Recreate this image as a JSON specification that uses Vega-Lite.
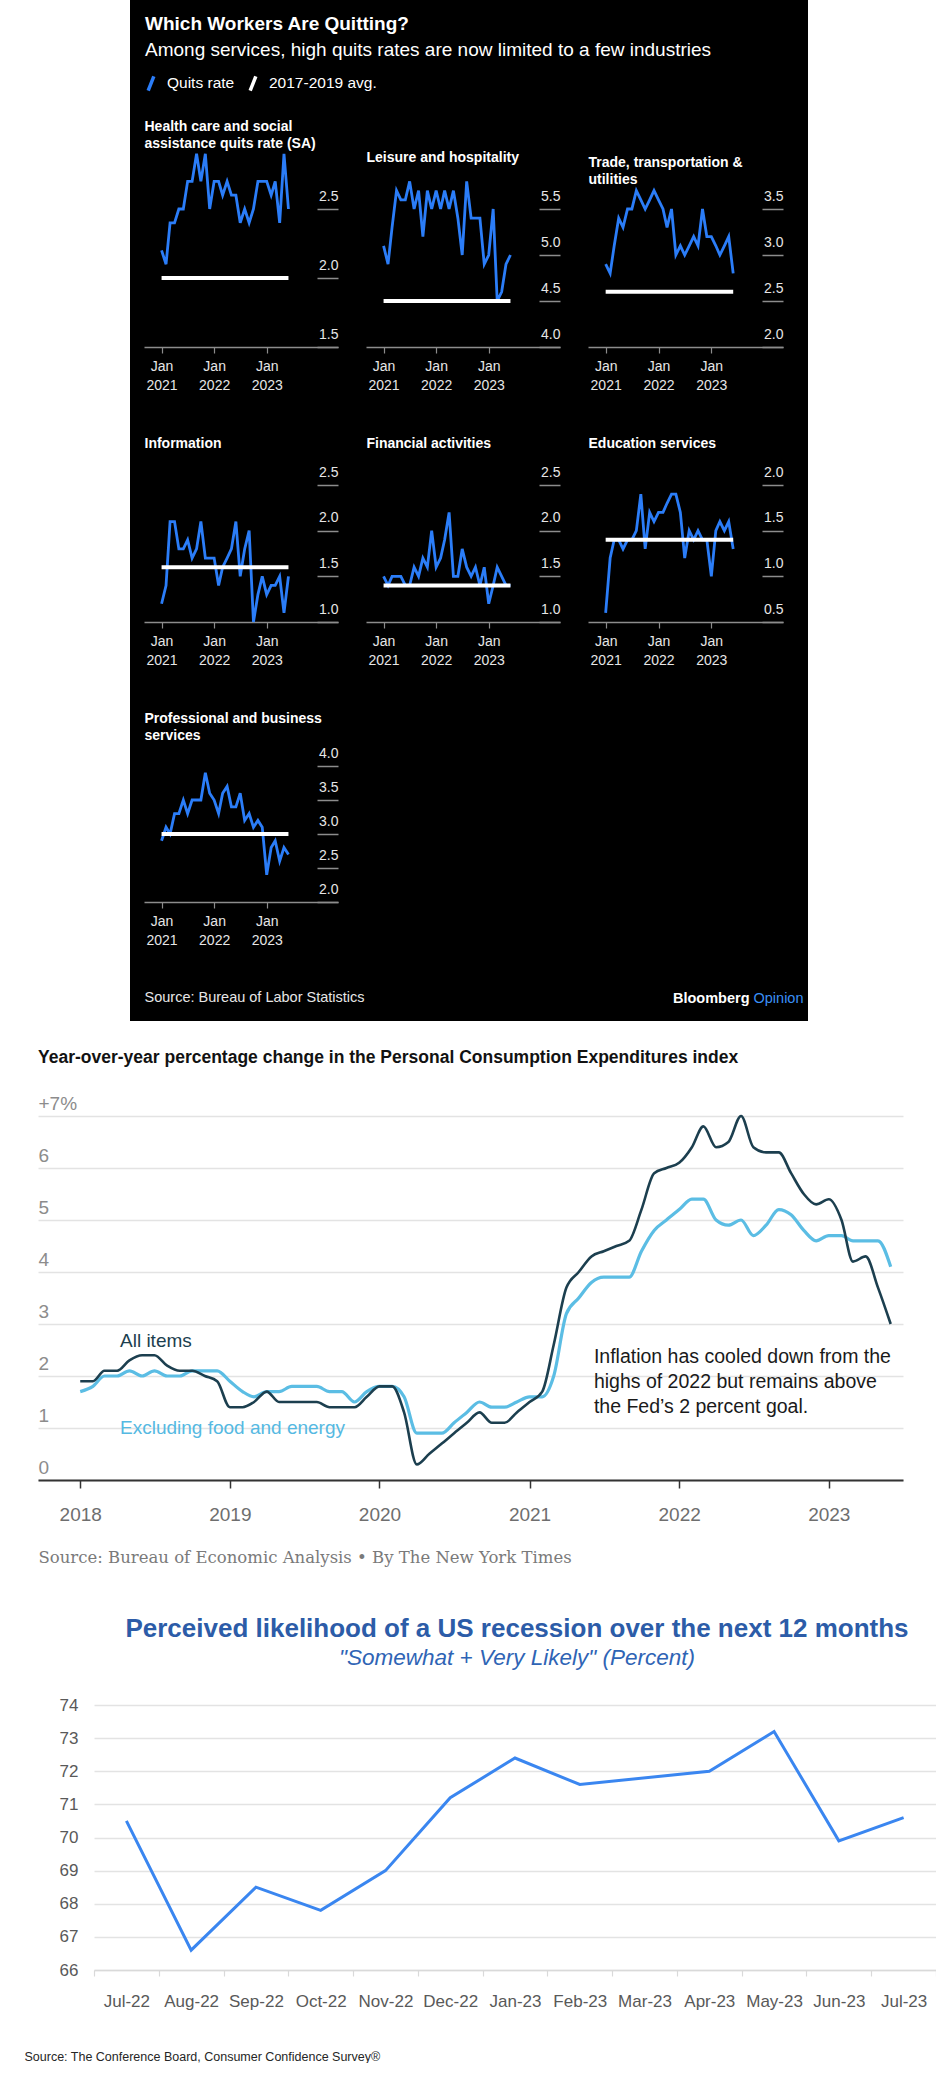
{
  "$schema": "https://vega.github.io/schema/vega-lite/v6.json",
  "padding": 0,
  "background": "white",
  "config": {
    "font": "Liberation Sans",
    "view": {"stroke": null},
    "axis": {"labelFont": "Liberation Sans", "titleFont": "Liberation Sans"},
    "title": {"font": "Liberation Sans", "subtitleFont": "Liberation Sans"}
  },
  "datasets": {
    "quits": [
      {"ind":"h","m":"2021-01-01","r":2.2},{"ind":"h","m":"2021-02-01","r":2.1},{"ind":"h","m":"2021-03-01","r":2.4},{"ind":"h","m":"2021-04-01","r":2.4},{"ind":"h","m":"2021-05-01","r":2.5},{"ind":"h","m":"2021-06-01","r":2.5},{"ind":"h","m":"2021-07-01","r":2.7},{"ind":"h","m":"2021-08-01","r":2.7},{"ind":"h","m":"2021-09-01","r":2.9},{"ind":"h","m":"2021-10-01","r":2.7},{"ind":"h","m":"2021-11-01","r":2.9},{"ind":"h","m":"2021-12-01","r":2.5},
      {"ind":"h","m":"2022-01-01","r":2.7},{"ind":"h","m":"2022-02-01","r":2.7},{"ind":"h","m":"2022-03-01","r":2.6},{"ind":"h","m":"2022-04-01","r":2.7},{"ind":"h","m":"2022-05-01","r":2.6},{"ind":"h","m":"2022-06-01","r":2.6},{"ind":"h","m":"2022-07-01","r":2.4},{"ind":"h","m":"2022-08-01","r":2.5},{"ind":"h","m":"2022-09-01","r":2.4},{"ind":"h","m":"2022-10-01","r":2.5},{"ind":"h","m":"2022-11-01","r":2.7},{"ind":"h","m":"2022-12-01","r":2.7},
      {"ind":"h","m":"2023-01-01","r":2.7},{"ind":"h","m":"2023-02-01","r":2.6},{"ind":"h","m":"2023-03-01","r":2.7},{"ind":"h","m":"2023-04-01","r":2.4},{"ind":"h","m":"2023-05-01","r":2.9},{"ind":"h","m":"2023-06-01","r":2.5},
      {"ind":"l","m":"2021-01-01","r":5.1},{"ind":"l","m":"2021-02-01","r":4.9},{"ind":"l","m":"2021-03-01","r":5.3},{"ind":"l","m":"2021-04-01","r":5.7},{"ind":"l","m":"2021-05-01","r":5.6},{"ind":"l","m":"2021-06-01","r":5.6},{"ind":"l","m":"2021-07-01","r":5.8},{"ind":"l","m":"2021-08-01","r":5.5},{"ind":"l","m":"2021-09-01","r":5.7},{"ind":"l","m":"2021-10-01","r":5.2},{"ind":"l","m":"2021-11-01","r":5.7},{"ind":"l","m":"2021-12-01","r":5.5},
      {"ind":"l","m":"2022-01-01","r":5.7},{"ind":"l","m":"2022-02-01","r":5.5},{"ind":"l","m":"2022-03-01","r":5.7},{"ind":"l","m":"2022-04-01","r":5.5},{"ind":"l","m":"2022-05-01","r":5.7},{"ind":"l","m":"2022-06-01","r":5.4},{"ind":"l","m":"2022-07-01","r":5.0},{"ind":"l","m":"2022-08-01","r":5.8},{"ind":"l","m":"2022-09-01","r":5.4},{"ind":"l","m":"2022-10-01","r":5.4},{"ind":"l","m":"2022-11-01","r":5.4},{"ind":"l","m":"2022-12-01","r":4.9},
      {"ind":"l","m":"2023-01-01","r":5.0},{"ind":"l","m":"2023-02-01","r":5.5},{"ind":"l","m":"2023-03-01","r":4.5},{"ind":"l","m":"2023-04-01","r":4.6},{"ind":"l","m":"2023-05-01","r":4.9},{"ind":"l","m":"2023-06-01","r":5.0},
      {"ind":"t","m":"2021-01-01","r":2.9},{"ind":"t","m":"2021-02-01","r":2.8},{"ind":"t","m":"2021-03-01","r":3.1},{"ind":"t","m":"2021-04-01","r":3.4},{"ind":"t","m":"2021-05-01","r":3.3},{"ind":"t","m":"2021-06-01","r":3.5},{"ind":"t","m":"2021-07-01","r":3.5},{"ind":"t","m":"2021-08-01","r":3.7},{"ind":"t","m":"2021-09-01","r":3.6},{"ind":"t","m":"2021-10-01","r":3.5},{"ind":"t","m":"2021-11-01","r":3.6},{"ind":"t","m":"2021-12-01","r":3.7},
      {"ind":"t","m":"2022-01-01","r":3.6},{"ind":"t","m":"2022-02-01","r":3.5},{"ind":"t","m":"2022-03-01","r":3.3},{"ind":"t","m":"2022-04-01","r":3.5},{"ind":"t","m":"2022-05-01","r":3.0},{"ind":"t","m":"2022-06-01","r":3.1},{"ind":"t","m":"2022-07-01","r":3.0},{"ind":"t","m":"2022-08-01","r":3.1},{"ind":"t","m":"2022-09-01","r":3.2},{"ind":"t","m":"2022-10-01","r":3.1},{"ind":"t","m":"2022-11-01","r":3.5},{"ind":"t","m":"2022-12-01","r":3.2},
      {"ind":"t","m":"2023-01-01","r":3.2},{"ind":"t","m":"2023-02-01","r":3.1},{"ind":"t","m":"2023-03-01","r":3.0},{"ind":"t","m":"2023-04-01","r":3.1},{"ind":"t","m":"2023-05-01","r":3.2},{"ind":"t","m":"2023-06-01","r":2.8},
      {"ind":"i","m":"2021-01-01","r":1.2},{"ind":"i","m":"2021-02-01","r":1.4},{"ind":"i","m":"2021-03-01","r":2.1},{"ind":"i","m":"2021-04-01","r":2.1},{"ind":"i","m":"2021-05-01","r":1.8},{"ind":"i","m":"2021-06-01","r":1.8},{"ind":"i","m":"2021-07-01","r":1.9},{"ind":"i","m":"2021-08-01","r":1.7},{"ind":"i","m":"2021-09-01","r":1.8},{"ind":"i","m":"2021-10-01","r":2.1},{"ind":"i","m":"2021-11-01","r":1.7},{"ind":"i","m":"2021-12-01","r":1.7},
      {"ind":"i","m":"2022-01-01","r":1.7},{"ind":"i","m":"2022-02-01","r":1.4},{"ind":"i","m":"2022-03-01","r":1.6},{"ind":"i","m":"2022-04-01","r":1.7},{"ind":"i","m":"2022-05-01","r":1.8},{"ind":"i","m":"2022-06-01","r":2.1},{"ind":"i","m":"2022-07-01","r":1.5},{"ind":"i","m":"2022-08-01","r":1.8},{"ind":"i","m":"2022-09-01","r":2.0},{"ind":"i","m":"2022-10-01","r":1.0},{"ind":"i","m":"2022-11-01","r":1.3},{"ind":"i","m":"2022-12-01","r":1.5},
      {"ind":"i","m":"2023-01-01","r":1.3},{"ind":"i","m":"2023-02-01","r":1.4},{"ind":"i","m":"2023-03-01","r":1.4},{"ind":"i","m":"2023-04-01","r":1.5},{"ind":"i","m":"2023-05-01","r":1.1},{"ind":"i","m":"2023-06-01","r":1.5},
      {"ind":"f","m":"2021-01-01","r":1.5},{"ind":"f","m":"2021-02-01","r":1.4},{"ind":"f","m":"2021-03-01","r":1.5},{"ind":"f","m":"2021-04-01","r":1.5},{"ind":"f","m":"2021-05-01","r":1.5},{"ind":"f","m":"2021-06-01","r":1.4},{"ind":"f","m":"2021-07-01","r":1.4},{"ind":"f","m":"2021-08-01","r":1.6},{"ind":"f","m":"2021-09-01","r":1.5},{"ind":"f","m":"2021-10-01","r":1.7},{"ind":"f","m":"2021-11-01","r":1.6},{"ind":"f","m":"2021-12-01","r":2.0},
      {"ind":"f","m":"2022-01-01","r":1.6},{"ind":"f","m":"2022-02-01","r":1.7},{"ind":"f","m":"2022-03-01","r":1.9},{"ind":"f","m":"2022-04-01","r":2.2},{"ind":"f","m":"2022-05-01","r":1.5},{"ind":"f","m":"2022-06-01","r":1.5},{"ind":"f","m":"2022-07-01","r":1.8},{"ind":"f","m":"2022-08-01","r":1.6},{"ind":"f","m":"2022-09-01","r":1.5},{"ind":"f","m":"2022-10-01","r":1.6},{"ind":"f","m":"2022-11-01","r":1.4},{"ind":"f","m":"2022-12-01","r":1.6},
      {"ind":"f","m":"2023-01-01","r":1.2},{"ind":"f","m":"2023-02-01","r":1.4},{"ind":"f","m":"2023-03-01","r":1.6},{"ind":"f","m":"2023-04-01","r":1.5},{"ind":"f","m":"2023-05-01","r":1.4},{"ind":"f","m":"2023-06-01","r":1.4},
      {"ind":"e","m":"2021-01-01","r":0.6},{"ind":"e","m":"2021-02-01","r":1.2},{"ind":"e","m":"2021-03-01","r":1.4},{"ind":"e","m":"2021-04-01","r":1.4},{"ind":"e","m":"2021-05-01","r":1.3},{"ind":"e","m":"2021-06-01","r":1.4},{"ind":"e","m":"2021-07-01","r":1.4},{"ind":"e","m":"2021-08-01","r":1.5},{"ind":"e","m":"2021-09-01","r":1.9},{"ind":"e","m":"2021-10-01","r":1.3},{"ind":"e","m":"2021-11-01","r":1.7},{"ind":"e","m":"2021-12-01","r":1.6},
      {"ind":"e","m":"2022-01-01","r":1.7},{"ind":"e","m":"2022-02-01","r":1.7},{"ind":"e","m":"2022-03-01","r":1.8},{"ind":"e","m":"2022-04-01","r":1.9},{"ind":"e","m":"2022-05-01","r":1.9},{"ind":"e","m":"2022-06-01","r":1.7},{"ind":"e","m":"2022-07-01","r":1.2},{"ind":"e","m":"2022-08-01","r":1.5},{"ind":"e","m":"2022-09-01","r":1.4},{"ind":"e","m":"2022-10-01","r":1.5},{"ind":"e","m":"2022-11-01","r":1.4},{"ind":"e","m":"2022-12-01","r":1.4},
      {"ind":"e","m":"2023-01-01","r":1.0},{"ind":"e","m":"2023-02-01","r":1.5},{"ind":"e","m":"2023-03-01","r":1.6},{"ind":"e","m":"2023-04-01","r":1.5},{"ind":"e","m":"2023-05-01","r":1.6},{"ind":"e","m":"2023-06-01","r":1.3},
      {"ind":"p","m":"2021-01-01","r":2.9},{"ind":"p","m":"2021-02-01","r":3.1},{"ind":"p","m":"2021-03-01","r":3.0},{"ind":"p","m":"2021-04-01","r":3.3},{"ind":"p","m":"2021-05-01","r":3.3},{"ind":"p","m":"2021-06-01","r":3.5},{"ind":"p","m":"2021-07-01","r":3.3},{"ind":"p","m":"2021-08-01","r":3.5},{"ind":"p","m":"2021-09-01","r":3.5},{"ind":"p","m":"2021-10-01","r":3.5},{"ind":"p","m":"2021-11-01","r":3.9},{"ind":"p","m":"2021-12-01","r":3.6},
      {"ind":"p","m":"2022-01-01","r":3.5},{"ind":"p","m":"2022-02-01","r":3.3},{"ind":"p","m":"2022-03-01","r":3.6},{"ind":"p","m":"2022-04-01","r":3.7},{"ind":"p","m":"2022-05-01","r":3.4},{"ind":"p","m":"2022-06-01","r":3.4},{"ind":"p","m":"2022-07-01","r":3.6},{"ind":"p","m":"2022-08-01","r":3.2},{"ind":"p","m":"2022-09-01","r":3.3},{"ind":"p","m":"2022-10-01","r":3.1},{"ind":"p","m":"2022-11-01","r":3.2},{"ind":"p","m":"2022-12-01","r":3.1},
      {"ind":"p","m":"2023-01-01","r":2.4},{"ind":"p","m":"2023-02-01","r":2.8},{"ind":"p","m":"2023-03-01","r":2.9},{"ind":"p","m":"2023-04-01","r":2.6},{"ind":"p","m":"2023-05-01","r":2.8},{"ind":"p","m":"2023-06-01","r":2.7}
    ],
    "avgs": [
      {"ind":"h","s":"2021-01-01","e":"2023-06-01","a":2.0},
      {"ind":"l","s":"2021-01-01","e":"2023-06-01","a":4.5},
      {"ind":"t","s":"2021-01-01","e":"2023-06-01","a":2.6},
      {"ind":"i","s":"2021-01-01","e":"2023-06-01","a":1.6},
      {"ind":"f","s":"2021-01-01","e":"2023-06-01","a":1.4},
      {"ind":"e","s":"2021-01-01","e":"2023-06-01","a":1.4},
      {"ind":"p","s":"2021-01-01","e":"2023-06-01","a":3.0}
    ],
    "pce": [
      {"d":"2018-01-01","all":1.9,"core":1.7},{"d":"2018-02-01","all":1.9,"core":1.8},{"d":"2018-03-01","all":2.1,"core":2.0},{"d":"2018-04-01","all":2.1,"core":2.0},{"d":"2018-05-01","all":2.3,"core":2.1},{"d":"2018-06-01","all":2.4,"core":2.0},{"d":"2018-07-01","all":2.4,"core":2.1},{"d":"2018-08-01","all":2.2,"core":2.0},{"d":"2018-09-01","all":2.1,"core":2.0},{"d":"2018-10-01","all":2.1,"core":2.1},{"d":"2018-11-01","all":2.0,"core":2.1},{"d":"2018-12-01","all":1.9,"core":2.1},
      {"d":"2019-01-01","all":1.4,"core":1.9},{"d":"2019-02-01","all":1.4,"core":1.7},{"d":"2019-03-01","all":1.5,"core":1.6},{"d":"2019-04-01","all":1.7,"core":1.7},{"d":"2019-05-01","all":1.5,"core":1.7},{"d":"2019-06-01","all":1.5,"core":1.8},{"d":"2019-07-01","all":1.5,"core":1.8},{"d":"2019-08-01","all":1.5,"core":1.8},{"d":"2019-09-01","all":1.4,"core":1.7},{"d":"2019-10-01","all":1.4,"core":1.7},{"d":"2019-11-01","all":1.4,"core":1.5},{"d":"2019-12-01","all":1.6,"core":1.7},
      {"d":"2020-01-01","all":1.8,"core":1.8},{"d":"2020-02-01","all":1.8,"core":1.8},{"d":"2020-03-01","all":1.3,"core":1.6},{"d":"2020-04-01","all":0.3,"core":0.9},{"d":"2020-05-01","all":0.5,"core":0.9},{"d":"2020-06-01","all":0.7,"core":0.9},{"d":"2020-07-01","all":0.9,"core":1.1},{"d":"2020-08-01","all":1.1,"core":1.3},{"d":"2020-09-01","all":1.3,"core":1.5},{"d":"2020-10-01","all":1.1,"core":1.4},{"d":"2020-11-01","all":1.1,"core":1.4},{"d":"2020-12-01","all":1.3,"core":1.5},
      {"d":"2021-01-01","all":1.5,"core":1.6},{"d":"2021-02-01","all":1.7,"core":1.6},{"d":"2021-03-01","all":2.6,"core":2.0},{"d":"2021-04-01","all":3.7,"core":3.2},{"d":"2021-05-01","all":4.0,"core":3.5},{"d":"2021-06-01","all":4.3,"core":3.8},{"d":"2021-07-01","all":4.4,"core":3.9},{"d":"2021-08-01","all":4.5,"core":3.9},{"d":"2021-09-01","all":4.6,"core":3.9},{"d":"2021-10-01","all":5.2,"core":4.4},{"d":"2021-11-01","all":5.9,"core":4.8},{"d":"2021-12-01","all":6.0,"core":5.0},
      {"d":"2022-01-01","all":6.1,"core":5.2},{"d":"2022-02-01","all":6.4,"core":5.4},{"d":"2022-03-01","all":6.8,"core":5.4},{"d":"2022-04-01","all":6.4,"core":5.0},{"d":"2022-05-01","all":6.5,"core":4.9},{"d":"2022-06-01","all":7.0,"core":5.0},{"d":"2022-07-01","all":6.4,"core":4.7},{"d":"2022-08-01","all":6.3,"core":4.9},{"d":"2022-09-01","all":6.3,"core":5.2},{"d":"2022-10-01","all":5.9,"core":5.1},{"d":"2022-11-01","all":5.5,"core":4.8},{"d":"2022-12-01","all":5.3,"core":4.6},
      {"d":"2023-01-01","all":5.4,"core":4.7},{"d":"2023-02-01","all":5.0,"core":4.7},{"d":"2023-03-01","all":4.2,"core":4.6},{"d":"2023-04-01","all":4.3,"core":4.6},{"d":"2023-05-01","all":3.7,"core":4.6},{"d":"2023-06-01","all":3.0,"core":4.1}
    ],
    "rec": [
      {"mo":"Jul-22","pct":70.5},{"mo":"Aug-22","pct":66.6},{"mo":"Sep-22","pct":68.5},{"mo":"Oct-22","pct":67.8},{"mo":"Nov-22","pct":69.0},{"mo":"Dec-22","pct":71.2},{"mo":"Jan-23","pct":72.4},{"mo":"Feb-23","pct":71.6},{"mo":"Apr-23","pct":72.0},{"mo":"May-23","pct":73.2},{"mo":"Jun-23","pct":69.9},{"mo":"Jul-23","pct":70.6}
    ]
  },
  "spacing": 27,
  "vconcat": [
    {
      "spacing": 0,
      "hconcat": [
        {"width": 130, "height": 4, "data": {"values": []}, "mark": "point", "view": {"fill": "white", "stroke": null}},
        {
          "width": 678,
          "height": 1021,
          "view": {"fill": "black", "stroke": null},
          "title": {"text": "Which Workers Are Quitting?", "subtitle": "Among services, high quits rates are now limited to a few industries", "anchor": "start", "frame": "group", "dx": 15, "offset": -60, "color": "white", "fontSize": 19, "fontWeight": "bold", "subtitleColor": "white", "subtitleFontSize": 19, "subtitlePadding": 7.5},
          "resolve": {"scale": {"x": "independent", "y": "independent"}, "axis": {"x": "independent", "y": "independent"}},
          "layer": [
            {
              "layer": [
                {"data": {"name": "quits"}, "transform": [{"filter": "datum.ind == 'h'"}], "mark": {"type": "line", "strokeWidth": 2.8, "clip": false},
                 "encoding": {
                   "x": {"field": "m", "type": "temporal", "scale": {"type": "utc", "domain": [{"year": 2020, "month": 9, "date": 1, "utc": true}, {"year": 2024, "month": 5, "date": 10, "utc": true}], "range": [14, 208]},
                         "axis": {"orient": "bottom", "offset": -674, "values": [{"year": 2021, "month": 1, "date": 1, "utc": true}, {"year": 2022, "month": 1, "date": 1, "utc": true}, {"year": 2023, "month": 1, "date": 1, "utc": true}], "labelExpr": "['Jan', utcFormat(datum.value, '%Y')]", "grid": false, "domainColor": "#8c8c8c", "domainWidth": 1.5, "tickColor": "#8c8c8c", "tickSize": 6, "tickWidth": 1.2, "labelColor": "#e6e6e6", "labelFontSize": 14, "labelLineHeight": 19, "labelPadding": 6, "labelFlush": false, "labelOverlap": false, "title": null}},
                   "y": {"field": "r", "type": "quantitative", "scale": {"domain": [1.5, 2.5], "range": [347, 209], "zero": false, "nice": false},
                         "axis": {"orient": "right", "offset": -491, "values": [1.5, 2.0, 2.5], "grid": false, "domain": false, "ticks": true, "tickSize": 21, "tickColor": "#8c8c8c", "tickWidth": 1.5, "labelAlign": "right", "labelBaseline": "alphabetic", "labelPadding": 0, "labelOffset": -9, "labelColor": "#e6e6e6", "labelFontSize": 14, "labelFlush": false, "labelOverlap": false, "format": ".1f",
                                  "title": ["Health care and social", "assistance quits rate (SA)"], "titleAngle": 0, "titleAlign": "left", "titleBaseline": "top", "titleX": -173, "titleY": 119, "titleColor": "white", "titleFontSize": 14, "titleFontWeight": "bold", "titleLineHeight": 17}},
                   "color": {"datum": "Quits rate", "scale": {"domain": ["Quits rate", "2017-2019 avg."], "range": ["#2b7df8", "#ffffff"]},
                             "legend": {"orient": "none", "legendX": 142, "legendY": 74, "direction": "horizontal", "title": null, "symbolType": "M-0.4,1L0.4,-1", "symbolSize": 200, "symbolStrokeWidth": 3.5, "labelColor": "white", "labelFontSize": 15.5, "labelOffset": 7, "columnPadding": 8}}
                 }},
                {"data": {"name": "avgs"}, "transform": [{"filter": "datum.ind == 'h'"}], "mark": {"type": "rule", "strokeWidth": 4, "clip": false},
                 "encoding": {
                   "x": {"field": "s", "type": "temporal", "scale": {"type": "utc", "domain": [{"year": 2020, "month": 9, "date": 1, "utc": true}, {"year": 2024, "month": 5, "date": 10, "utc": true}], "range": [14, 208]}},
                   "x2": {"field": "e"},
                   "y": {"field": "a", "type": "quantitative", "scale": {"domain": [1.5, 2.5], "range": [347, 209], "zero": false, "nice": false}},
                   "color": {"datum": "2017-2019 avg.", "scale": {"domain": ["Quits rate", "2017-2019 avg."], "range": ["#2b7df8", "#ffffff"]}, "legend": null}
                 }}
              ]
            },
            {
              "layer": [
                {"data": {"name": "quits"}, "transform": [{"filter": "datum.ind == 'l'"}], "mark": {"type": "line", "strokeWidth": 2.8, "clip": false},
                 "encoding": {
                   "x": {"field": "m", "type": "temporal", "scale": {"type": "utc", "domain": [{"year": 2020, "month": 9, "date": 1, "utc": true}, {"year": 2024, "month": 5, "date": 10, "utc": true}], "range": [236, 430]},
                         "axis": {"orient": "bottom", "offset": -674, "values": [{"year": 2021, "month": 1, "date": 1, "utc": true}, {"year": 2022, "month": 1, "date": 1, "utc": true}, {"year": 2023, "month": 1, "date": 1, "utc": true}], "labelExpr": "['Jan', utcFormat(datum.value, '%Y')]", "grid": false, "domainColor": "#8c8c8c", "domainWidth": 1.5, "tickColor": "#8c8c8c", "tickSize": 6, "tickWidth": 1.2, "labelColor": "#e6e6e6", "labelFontSize": 14, "labelLineHeight": 19, "labelPadding": 6, "labelFlush": false, "labelOverlap": false, "title": null}},
                   "y": {"field": "r", "type": "quantitative", "scale": {"domain": [4.0, 5.5], "range": [347, 209], "zero": false, "nice": false},
                         "axis": {"orient": "right", "offset": -269, "values": [4.0, 4.5, 5.0, 5.5], "grid": false, "domain": false, "ticks": true, "tickSize": 21, "tickColor": "#8c8c8c", "tickWidth": 1.5, "labelAlign": "right", "labelBaseline": "alphabetic", "labelPadding": 0, "labelOffset": -9, "labelColor": "#e6e6e6", "labelFontSize": 14, "labelFlush": false, "labelOverlap": false, "format": ".1f",
                                  "title": "Leisure and hospitality", "titleAngle": 0, "titleAlign": "left", "titleBaseline": "top", "titleX": -173, "titleY": 150, "titleColor": "white", "titleFontSize": 14, "titleFontWeight": "bold", "titleLineHeight": 17}},
                   "color": {"datum": "Quits rate", "scale": {"domain": ["Quits rate", "2017-2019 avg."], "range": ["#2b7df8", "#ffffff"]}, "legend": null}
                 }},
                {"data": {"name": "avgs"}, "transform": [{"filter": "datum.ind == 'l'"}], "mark": {"type": "rule", "strokeWidth": 4, "clip": false},
                 "encoding": {
                   "x": {"field": "s", "type": "temporal", "scale": {"type": "utc", "domain": [{"year": 2020, "month": 9, "date": 1, "utc": true}, {"year": 2024, "month": 5, "date": 10, "utc": true}], "range": [236, 430]}},
                   "x2": {"field": "e"},
                   "y": {"field": "a", "type": "quantitative", "scale": {"domain": [4.0, 5.5], "range": [347, 209], "zero": false, "nice": false}},
                   "color": {"datum": "2017-2019 avg.", "scale": {"domain": ["Quits rate", "2017-2019 avg."], "range": ["#2b7df8", "#ffffff"]}, "legend": null}
                 }}
              ]
            },
            {
              "layer": [
                {"data": {"name": "quits"}, "transform": [{"filter": "datum.ind == 't'"}], "mark": {"type": "line", "strokeWidth": 2.8, "clip": false},
                 "encoding": {
                   "x": {"field": "m", "type": "temporal", "scale": {"type": "utc", "domain": [{"year": 2020, "month": 9, "date": 1, "utc": true}, {"year": 2024, "month": 5, "date": 10, "utc": true}], "range": [458, 653]},
                         "axis": {"orient": "bottom", "offset": -674, "values": [{"year": 2021, "month": 1, "date": 1, "utc": true}, {"year": 2022, "month": 1, "date": 1, "utc": true}, {"year": 2023, "month": 1, "date": 1, "utc": true}], "labelExpr": "['Jan', utcFormat(datum.value, '%Y')]", "grid": false, "domainColor": "#8c8c8c", "domainWidth": 1.5, "tickColor": "#8c8c8c", "tickSize": 6, "tickWidth": 1.2, "labelColor": "#e6e6e6", "labelFontSize": 14, "labelLineHeight": 19, "labelPadding": 6, "labelFlush": false, "labelOverlap": false, "title": null}},
                   "y": {"field": "r", "type": "quantitative", "scale": {"domain": [2.0, 3.5], "range": [347, 209], "zero": false, "nice": false},
                         "axis": {"orient": "right", "offset": -46, "values": [2.0, 2.5, 3.0, 3.5], "grid": false, "domain": false, "ticks": true, "tickSize": 21, "tickColor": "#8c8c8c", "tickWidth": 1.5, "labelAlign": "right", "labelBaseline": "alphabetic", "labelPadding": 0, "labelOffset": -9, "labelColor": "#e6e6e6", "labelFontSize": 14, "labelFlush": false, "labelOverlap": false, "format": ".1f",
                                  "title": ["Trade, transportation &", "utilities"], "titleAngle": 0, "titleAlign": "left", "titleBaseline": "top", "titleX": -174, "titleY": 155, "titleColor": "white", "titleFontSize": 14, "titleFontWeight": "bold", "titleLineHeight": 17}},
                   "color": {"datum": "Quits rate", "scale": {"domain": ["Quits rate", "2017-2019 avg."], "range": ["#2b7df8", "#ffffff"]}, "legend": null}
                 }},
                {"data": {"name": "avgs"}, "transform": [{"filter": "datum.ind == 't'"}], "mark": {"type": "rule", "strokeWidth": 4, "clip": false},
                 "encoding": {
                   "x": {"field": "s", "type": "temporal", "scale": {"type": "utc", "domain": [{"year": 2020, "month": 9, "date": 1, "utc": true}, {"year": 2024, "month": 5, "date": 10, "utc": true}], "range": [458, 653]}},
                   "x2": {"field": "e"},
                   "y": {"field": "a", "type": "quantitative", "scale": {"domain": [2.0, 3.5], "range": [347, 209], "zero": false, "nice": false}},
                   "color": {"datum": "2017-2019 avg.", "scale": {"domain": ["Quits rate", "2017-2019 avg."], "range": ["#2b7df8", "#ffffff"]}, "legend": null}
                 }}
              ]
            },
            {
              "layer": [
                {"data": {"name": "quits"}, "transform": [{"filter": "datum.ind == 'i'"}], "mark": {"type": "line", "strokeWidth": 2.8, "clip": false},
                 "encoding": {
                   "x": {"field": "m", "type": "temporal", "scale": {"type": "utc", "domain": [{"year": 2020, "month": 9, "date": 1, "utc": true}, {"year": 2024, "month": 5, "date": 10, "utc": true}], "range": [14, 208]},
                         "axis": {"orient": "bottom", "offset": -399, "values": [{"year": 2021, "month": 1, "date": 1, "utc": true}, {"year": 2022, "month": 1, "date": 1, "utc": true}, {"year": 2023, "month": 1, "date": 1, "utc": true}], "labelExpr": "['Jan', utcFormat(datum.value, '%Y')]", "grid": false, "domainColor": "#8c8c8c", "domainWidth": 1.5, "tickColor": "#8c8c8c", "tickSize": 6, "tickWidth": 1.2, "labelColor": "#e6e6e6", "labelFontSize": 14, "labelLineHeight": 19, "labelPadding": 6, "labelFlush": false, "labelOverlap": false, "title": null}},
                   "y": {"field": "r", "type": "quantitative", "scale": {"domain": [1.0, 2.5], "range": [622, 485], "zero": false, "nice": false},
                         "axis": {"orient": "right", "offset": -491, "values": [1.0, 1.5, 2.0, 2.5], "grid": false, "domain": false, "ticks": true, "tickSize": 21, "tickColor": "#8c8c8c", "tickWidth": 1.5, "labelAlign": "right", "labelBaseline": "alphabetic", "labelPadding": 0, "labelOffset": -9, "labelColor": "#e6e6e6", "labelFontSize": 14, "labelFlush": false, "labelOverlap": false, "format": ".1f",
                                  "title": "Information", "titleAngle": 0, "titleAlign": "left", "titleBaseline": "top", "titleX": -173, "titleY": 436, "titleColor": "white", "titleFontSize": 14, "titleFontWeight": "bold", "titleLineHeight": 17}},
                   "color": {"datum": "Quits rate", "scale": {"domain": ["Quits rate", "2017-2019 avg."], "range": ["#2b7df8", "#ffffff"]}, "legend": null}
                 }},
                {"data": {"name": "avgs"}, "transform": [{"filter": "datum.ind == 'i'"}], "mark": {"type": "rule", "strokeWidth": 4, "clip": false},
                 "encoding": {
                   "x": {"field": "s", "type": "temporal", "scale": {"type": "utc", "domain": [{"year": 2020, "month": 9, "date": 1, "utc": true}, {"year": 2024, "month": 5, "date": 10, "utc": true}], "range": [14, 208]}},
                   "x2": {"field": "e"},
                   "y": {"field": "a", "type": "quantitative", "scale": {"domain": [1.0, 2.5], "range": [622, 485], "zero": false, "nice": false}},
                   "color": {"datum": "2017-2019 avg.", "scale": {"domain": ["Quits rate", "2017-2019 avg."], "range": ["#2b7df8", "#ffffff"]}, "legend": null}
                 }}
              ]
            },
            {
              "layer": [
                {"data": {"name": "quits"}, "transform": [{"filter": "datum.ind == 'f'"}], "mark": {"type": "line", "strokeWidth": 2.8, "clip": false},
                 "encoding": {
                   "x": {"field": "m", "type": "temporal", "scale": {"type": "utc", "domain": [{"year": 2020, "month": 9, "date": 1, "utc": true}, {"year": 2024, "month": 5, "date": 10, "utc": true}], "range": [236, 430]},
                         "axis": {"orient": "bottom", "offset": -399, "values": [{"year": 2021, "month": 1, "date": 1, "utc": true}, {"year": 2022, "month": 1, "date": 1, "utc": true}, {"year": 2023, "month": 1, "date": 1, "utc": true}], "labelExpr": "['Jan', utcFormat(datum.value, '%Y')]", "grid": false, "domainColor": "#8c8c8c", "domainWidth": 1.5, "tickColor": "#8c8c8c", "tickSize": 6, "tickWidth": 1.2, "labelColor": "#e6e6e6", "labelFontSize": 14, "labelLineHeight": 19, "labelPadding": 6, "labelFlush": false, "labelOverlap": false,
                                  "title": "Opinion", "titleX": 673, "titleY": 376, "titleAlign": "right", "titleBaseline": "middle", "titleColor": "#3a8ff5", "titleFontSize": 14.5, "titleFontWeight": "normal"}},
                   "y": {"field": "r", "type": "quantitative", "scale": {"domain": [1.0, 2.5], "range": [622, 485], "zero": false, "nice": false},
                         "axis": {"orient": "right", "offset": -269, "values": [1.0, 1.5, 2.0, 2.5], "grid": false, "domain": false, "ticks": true, "tickSize": 21, "tickColor": "#8c8c8c", "tickWidth": 1.5, "labelAlign": "right", "labelBaseline": "alphabetic", "labelPadding": 0, "labelOffset": -9, "labelColor": "#e6e6e6", "labelFontSize": 14, "labelFlush": false, "labelOverlap": false, "format": ".1f",
                                  "title": "Financial activities", "titleAngle": 0, "titleAlign": "left", "titleBaseline": "top", "titleX": -173, "titleY": 436, "titleColor": "white", "titleFontSize": 14, "titleFontWeight": "bold", "titleLineHeight": 17}},
                   "color": {"datum": "Quits rate", "scale": {"domain": ["Quits rate", "2017-2019 avg."], "range": ["#2b7df8", "#ffffff"]}, "legend": null}
                 }},
                {"data": {"name": "avgs"}, "transform": [{"filter": "datum.ind == 'f'"}], "mark": {"type": "rule", "strokeWidth": 4, "clip": false},
                 "encoding": {
                   "x": {"field": "s", "type": "temporal", "scale": {"type": "utc", "domain": [{"year": 2020, "month": 9, "date": 1, "utc": true}, {"year": 2024, "month": 5, "date": 10, "utc": true}], "range": [236, 430]}},
                   "x2": {"field": "e"},
                   "y": {"field": "a", "type": "quantitative", "scale": {"domain": [1.0, 2.5], "range": [622, 485], "zero": false, "nice": false}},
                   "color": {"datum": "2017-2019 avg.", "scale": {"domain": ["Quits rate", "2017-2019 avg."], "range": ["#2b7df8", "#ffffff"]}, "legend": null}
                 }}
              ]
            },
            {
              "layer": [
                {"data": {"name": "quits"}, "transform": [{"filter": "datum.ind == 'e'"}], "mark": {"type": "line", "strokeWidth": 2.8, "clip": false},
                 "encoding": {
                   "x": {"field": "m", "type": "temporal", "scale": {"type": "utc", "domain": [{"year": 2020, "month": 9, "date": 1, "utc": true}, {"year": 2024, "month": 5, "date": 10, "utc": true}], "range": [458, 653]},
                         "axis": {"orient": "bottom", "offset": -399, "values": [{"year": 2021, "month": 1, "date": 1, "utc": true}, {"year": 2022, "month": 1, "date": 1, "utc": true}, {"year": 2023, "month": 1, "date": 1, "utc": true}], "labelExpr": "['Jan', utcFormat(datum.value, '%Y')]", "grid": false, "domainColor": "#8c8c8c", "domainWidth": 1.5, "tickColor": "#8c8c8c", "tickSize": 6, "tickWidth": 1.2, "labelColor": "#e6e6e6", "labelFontSize": 14, "labelLineHeight": 19, "labelPadding": 6, "labelFlush": false, "labelOverlap": false,
                                  "title": "Bloomberg", "titleX": 619, "titleY": 376, "titleAlign": "right", "titleBaseline": "middle", "titleColor": "white", "titleFontSize": 14.5, "titleFontWeight": "bold"}},
                   "y": {"field": "r", "type": "quantitative", "scale": {"domain": [0.5, 2.0], "range": [622, 485], "zero": false, "nice": false},
                         "axis": {"orient": "right", "offset": -46, "values": [0.5, 1.0, 1.5, 2.0], "grid": false, "domain": false, "ticks": true, "tickSize": 21, "tickColor": "#8c8c8c", "tickWidth": 1.5, "labelAlign": "right", "labelBaseline": "alphabetic", "labelPadding": 0, "labelOffset": -9, "labelColor": "#e6e6e6", "labelFontSize": 14, "labelFlush": false, "labelOverlap": false, "format": ".1f",
                                  "title": "Education services", "titleAngle": 0, "titleAlign": "left", "titleBaseline": "top", "titleX": -174, "titleY": 436, "titleColor": "white", "titleFontSize": 14, "titleFontWeight": "bold", "titleLineHeight": 17}},
                   "color": {"datum": "Quits rate", "scale": {"domain": ["Quits rate", "2017-2019 avg."], "range": ["#2b7df8", "#ffffff"]}, "legend": null}
                 }},
                {"data": {"name": "avgs"}, "transform": [{"filter": "datum.ind == 'e'"}], "mark": {"type": "rule", "strokeWidth": 4, "clip": false},
                 "encoding": {
                   "x": {"field": "s", "type": "temporal", "scale": {"type": "utc", "domain": [{"year": 2020, "month": 9, "date": 1, "utc": true}, {"year": 2024, "month": 5, "date": 10, "utc": true}], "range": [458, 653]}},
                   "x2": {"field": "e"},
                   "y": {"field": "a", "type": "quantitative", "scale": {"domain": [0.5, 2.0], "range": [622, 485], "zero": false, "nice": false}},
                   "color": {"datum": "2017-2019 avg.", "scale": {"domain": ["Quits rate", "2017-2019 avg."], "range": ["#2b7df8", "#ffffff"]}, "legend": null}
                 }}
              ]
            },
            {
              "layer": [
                {"data": {"name": "quits"}, "transform": [{"filter": "datum.ind == 'p'"}], "mark": {"type": "line", "strokeWidth": 2.8, "clip": false},
                 "encoding": {
                   "x": {"field": "m", "type": "temporal", "scale": {"type": "utc", "domain": [{"year": 2020, "month": 9, "date": 1, "utc": true}, {"year": 2024, "month": 5, "date": 10, "utc": true}], "range": [14, 208]},
                         "axis": {"orient": "bottom", "offset": -119, "values": [{"year": 2021, "month": 1, "date": 1, "utc": true}, {"year": 2022, "month": 1, "date": 1, "utc": true}, {"year": 2023, "month": 1, "date": 1, "utc": true}], "labelExpr": "['Jan', utcFormat(datum.value, '%Y')]", "grid": false, "domainColor": "#8c8c8c", "domainWidth": 1.5, "tickColor": "#8c8c8c", "tickSize": 6, "tickWidth": 1.2, "labelColor": "#e6e6e6", "labelFontSize": 14, "labelLineHeight": 19, "labelPadding": 6, "labelFlush": false, "labelOverlap": false,
                                  "title": "Source: Bureau of Labor Statistics", "titleX": 14, "titleY": 95, "titleAlign": "left", "titleBaseline": "middle", "titleColor": "#e6e6e6", "titleFontSize": 14.5, "titleFontWeight": "normal"}},
                   "y": {"field": "r", "type": "quantitative", "scale": {"domain": [2.0, 4.0], "range": [902, 766], "zero": false, "nice": false},
                         "axis": {"orient": "right", "offset": -491, "values": [2.0, 2.5, 3.0, 3.5, 4.0], "grid": false, "domain": false, "ticks": true, "tickSize": 21, "tickColor": "#8c8c8c", "tickWidth": 1.5, "labelAlign": "right", "labelBaseline": "alphabetic", "labelPadding": 0, "labelOffset": -9, "labelColor": "#e6e6e6", "labelFontSize": 14, "labelFlush": false, "labelOverlap": false, "format": ".1f",
                                  "title": ["Professional and business", "services"], "titleAngle": 0, "titleAlign": "left", "titleBaseline": "top", "titleX": -173, "titleY": 711, "titleColor": "white", "titleFontSize": 14, "titleFontWeight": "bold", "titleLineHeight": 17}},
                   "color": {"datum": "Quits rate", "scale": {"domain": ["Quits rate", "2017-2019 avg."], "range": ["#2b7df8", "#ffffff"]}, "legend": null}
                 }},
                {"data": {"name": "avgs"}, "transform": [{"filter": "datum.ind == 'p'"}], "mark": {"type": "rule", "strokeWidth": 4, "clip": false},
                 "encoding": {
                   "x": {"field": "s", "type": "temporal", "scale": {"type": "utc", "domain": [{"year": 2020, "month": 9, "date": 1, "utc": true}, {"year": 2024, "month": 5, "date": 10, "utc": true}], "range": [14, 208]}},
                   "x2": {"field": "e"},
                   "y": {"field": "a", "type": "quantitative", "scale": {"domain": [2.0, 4.0], "range": [902, 766], "zero": false, "nice": false}},
                   "color": {"datum": "2017-2019 avg.", "scale": {"domain": ["Quits rate", "2017-2019 avg."], "range": ["#2b7df8", "#ffffff"]}, "legend": null}
                 }}
              ]
            }
          ]
        }
      ]
    },
    {
      "spacing": 49,
      "vconcat": [
        {
          "spacing": 0,
          "hconcat": [
            {"width": 38, "height": 4, "data": {"values": []}, "mark": "point", "view": {"fill": "white", "stroke": null}},
            {
              "width": 865,
              "height": 364,
              "title": {"text": "Year-over-year percentage change in the Personal Consumption Expenditures index", "anchor": "start", "frame": "group", "fontSize": 17.5, "fontWeight": "bold", "color": "#121212", "offset": 28},
              "layer": [
                {"data": {"name": "pce"}, "mark": {"type": "line", "color": "#5bbde4", "strokeWidth": 3.2, "interpolate": "monotone"},
                 "encoding": {
                   "x": {"field": "d", "type": "temporal", "scale": {"type": "utc", "domain": [{"year": 2017, "month": 9, "date": 20, "utc": true}, {"year": 2023, "month": 7, "date": 1, "utc": true}]},
                         "axis": {"values": [{"year": 2018, "month": 1, "date": 1, "utc": true}, {"year": 2019, "month": 1, "date": 1, "utc": true}, {"year": 2020, "month": 1, "date": 1, "utc": true}, {"year": 2021, "month": 1, "date": 1, "utc": true}, {"year": 2022, "month": 1, "date": 1, "utc": true}, {"year": 2023, "month": 1, "date": 1, "utc": true}],
                                  "labelExpr": "utcFormat(datum.value, '%Y')", "grid": false, "domainColor": "#333333", "domainWidth": 2, "tickColor": "#333333", "tickWidth": 1.5, "tickSize": 8, "labelColor": "#6e6e6e", "labelFontSize": 19, "labelPadding": 17, "labelFlush": false, "labelOverlap": false,
                                  "title": "Source: Bureau of Economic Analysis  •  By The New York Times", "titleFont": "DejaVu Serif", "titleFontSize": 16.5, "titleFontWeight": "normal", "titleColor": "#7a7a7a", "titleAnchor": "start", "titleAlign": "left", "titlePadding": 25}},
                   "y": {"field": "core", "type": "quantitative", "scale": {"domain": [0, 7], "nice": false},
                         "axis": {"values": [0, 1, 2, 3, 4, 5, 6, 7], "format": "d", "labelExpr": "datum.value == 7 ? '+7%' : datum.label", "domain": false, "ticks": false, "tickSize": 0, "grid": true, "gridColor": "#e3e3e3", "gridWidth": 1.5, "labelAlign": "left", "labelBaseline": "alphabetic", "labelPadding": 0, "labelOffset": -7, "labelColor": "#8c8c8c", "labelFontSize": 19, "labelFlush": false, "labelOverlap": false, "title": null}}
                 }},
                {"data": {"name": "pce"}, "mark": {"type": "line", "color": "#1c3f4f", "strokeWidth": 2.6, "interpolate": "monotone"},
                 "encoding": {
                   "x": {"field": "d", "type": "temporal", "scale": {"type": "utc", "domain": [{"year": 2017, "month": 9, "date": 20, "utc": true}, {"year": 2023, "month": 7, "date": 1, "utc": true}]}},
                   "y": {"field": "all", "type": "quantitative", "scale": {"domain": [0, 7], "nice": false}}
                 }},
                {"data": {"values": [{"d": "2018-04-08", "v": 2.68, "t": "All items"}]}, "mark": {"type": "text", "align": "left", "baseline": "middle", "fontSize": 19, "color": "#1c3f4f"},
                 "encoding": {
                   "x": {"field": "d", "type": "temporal", "scale": {"type": "utc", "domain": [{"year": 2017, "month": 9, "date": 20, "utc": true}, {"year": 2023, "month": 7, "date": 1, "utc": true}]}},
                   "y": {"field": "v", "type": "quantitative", "scale": {"domain": [0, 7], "nice": false}},
                   "text": {"field": "t"}
                 }},
                {"data": {"values": [{"d": "2018-04-08", "v": 1.0, "t": "Excluding food and energy"}]}, "mark": {"type": "text", "align": "left", "baseline": "middle", "fontSize": 19, "color": "#55b9e2"},
                 "encoding": {
                   "x": {"field": "d", "type": "temporal", "scale": {"type": "utc", "domain": [{"year": 2017, "month": 9, "date": 20, "utc": true}, {"year": 2023, "month": 7, "date": 1, "utc": true}]}},
                   "y": {"field": "v", "type": "quantitative", "scale": {"domain": [0, 7], "nice": false}},
                   "text": {"field": "t"}
                 }},
                {"data": {"values": [{"d": "2021-06-07", "v": 2.53, "t": "Inflation has cooled down from the\nhighs of 2022 but remains above\nthe Fed’s 2 percent goal."}]}, "mark": {"type": "text", "align": "left", "baseline": "top", "fontSize": 19.5, "lineHeight": 25, "lineBreak": "\n", "color": "#1a1a1a"},
                 "encoding": {
                   "x": {"field": "d", "type": "temporal", "scale": {"type": "utc", "domain": [{"year": 2017, "month": 9, "date": 20, "utc": true}, {"year": 2023, "month": 7, "date": 1, "utc": true}]}},
                   "y": {"field": "v", "type": "quantitative", "scale": {"domain": [0, 7], "nice": false}},
                   "text": {"field": "t"}
                 }}
              ]
            }
          ]
        },
        {
          "spacing": 0,
          "hconcat": [
            {"width": 24, "height": 4, "data": {"values": []}, "mark": "point", "view": {"fill": "white", "stroke": null}},
            {
              "width": 842,
              "height": 265,
              "data": {"name": "rec"},
              "title": {"text": "Perceived likelihood of a US recession over the next 12 months", "subtitle": "\"Somewhat + Very Likely\" (Percent)", "anchor": "middle", "frame": "group", "dx": 2, "offset": 27, "fontSize": 26, "fontWeight": "bold", "color": "#2c5ca8", "subtitleColor": "#2f64b5", "subtitleFontSize": 22.5, "subtitleFontStyle": "italic", "subtitlePadding": 5},
              "mark": {"type": "line", "color": "#3a86f0", "strokeWidth": 3},
              "encoding": {
                "x": {"field": "mo", "type": "ordinal", "sort": null,
                      "scale": {"type": "band", "domain": ["Jul-22", "Aug-22", "Sep-22", "Oct-22", "Nov-22", "Dec-22", "Jan-23", "Feb-23", "Mar-23", "Apr-23", "May-23", "Jun-23", "Jul-23"], "paddingInner": 0, "paddingOuter": 0},
                      "axis": {"tickBand": "extent", "labelAngle": 0, "labelFontSize": 17, "labelColor": "#595959", "labelPadding": 17, "tickSize": 6, "tickColor": "#d9d9d9", "tickWidth": 1.2, "domainColor": "#d9d9d9", "domainWidth": 1.3, "grid": false,
                               "title": "Source: The Conference Board, Consumer Confidence   Survey®", "titleFontSize": 12.5, "titleFontWeight": "normal", "titleColor": "#262626", "titleX": -70, "titleY": 80, "titleAlign": "left", "titleBaseline": "top", "titleAnchor": "start"}},
                "y": {"field": "pct", "type": "quantitative", "scale": {"domain": [66, 74], "zero": false, "nice": false},
                      "axis": {"values": [66, 67, 68, 69, 70, 71, 72, 73, 74], "domain": false, "ticks": false, "tickSize": 0, "labelPadding": 16, "labelFontSize": 17, "labelColor": "#595959", "grid": true, "gridColor": "#e3e3e3", "gridWidth": 1.3, "title": null}}
              }
            }
          ]
        }
      ]
    }
  ]
}
